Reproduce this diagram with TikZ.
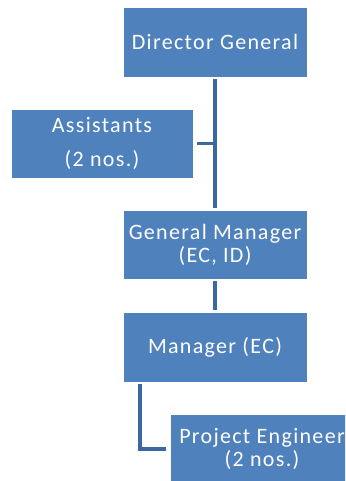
\documentclass[tikz,border=0pt]{standalone}
\usepackage{fontspec}
\setmainfont{Carlito}[LetterSpace=6]
\definecolor{boxblue}{RGB}{79,129,189}
\definecolor{lineblue}{RGB}{60,104,160}
\tikzset{
    post/.style={draw=white, line width=0.8pt, fill=boxblue, text=white,
        minimum width=184pt, minimum height=70pt, inner sep=0pt,
        font=\fontsize{22}{23}\selectfont, align=center},
    link/.style={draw=lineblue, line width=3.2pt}
}

\begin{document}
\begin{tikzpicture}[x=1pt, y=-1pt]
    \useasboundingbox (0,0) rectangle (345,481);
    \clip (0,0) rectangle (345,481);
    \node[post] (dg) at (215,42) {Director General};
    \node[post, minimum width=182pt, minimum height=69pt,
        font=\fontsize{22}{34}\selectfont] (asst) at (102,143.5) {Assistants\\(2 nos.)};
    \node[post, minimum height=69pt] (gm) at (215,244.5) {General Manager\\(EC, ID)};
    \node[post] (mgr) at (215,347) {Manager (EC)};
    \node[post] (pe) at (262,449) {Project Engineer\\(2 nos.)};
    \coordinate (bend) at (140,449);
    \draw[link] ([yshift=-2pt]dg.south) -- ([yshift=2pt]gm.north);
    \draw[link] ([xshift=4pt]asst.east) -- (asst.east -| dg.south);
    \draw[link] ([yshift=-2pt]gm.south) -- ([yshift=2pt]mgr.north);
    \draw[link] ([yshift=-2pt]mgr.south -| bend) -- (bend) -- ([xshift=-4pt]pe.west);
\end{tikzpicture}
\end{document}
